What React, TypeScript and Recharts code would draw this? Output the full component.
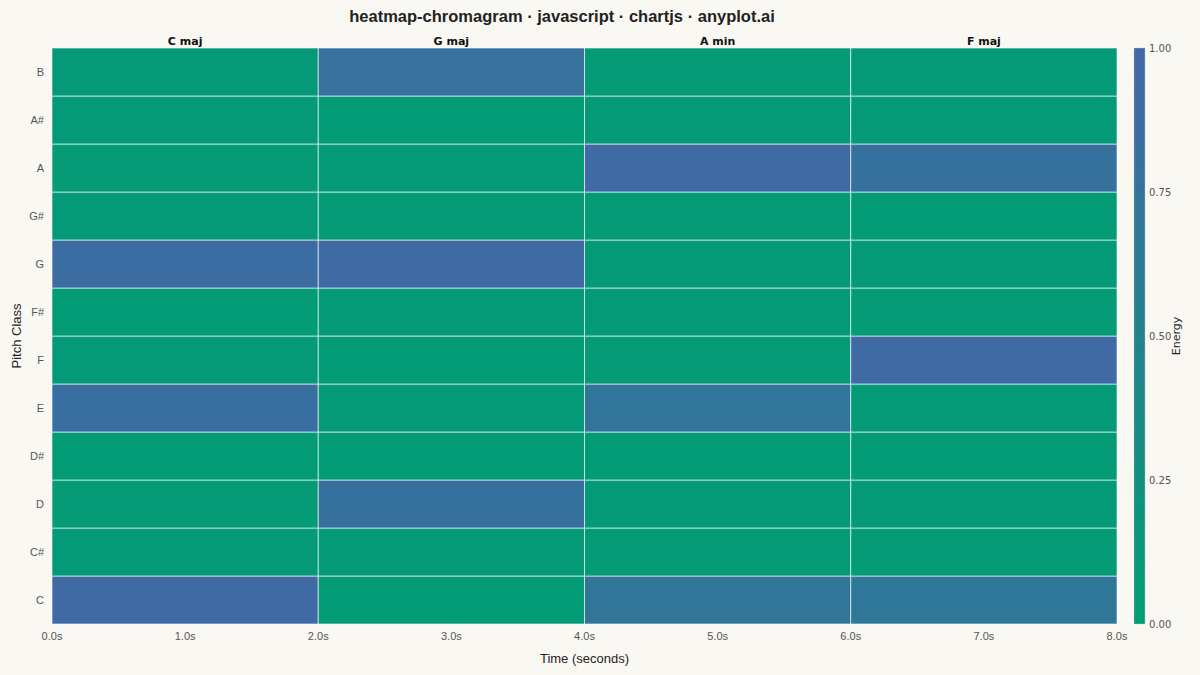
import React from "react";
import { ScatterChart, Scatter, XAxis, YAxis, ReferenceArea } from "recharts";

const PITCHES = ["C", "C#", "D", "D#", "E", "F", "F#", "G", "G#", "A", "A#", "B"];
const CHORDS = ["C maj", "G maj", "A min", "F maj"];
const CHORD_STARTS = [0, 2, 4, 6];
const CHORD_LENGTH = 2;
const TIME_TICKS = [0, 1, 2, 3, 4, 5, 6, 7, 8];
const ENERGY_TICKS = [0, 0.25, 0.5, 0.75, 1];

// energy per pitch class (C..B) for each chord segment
const C_MAJ = [0.93, 0.07, 0.06, 0.05, 0.84, 0.07, 0.05, 0.88, 0.08, 0.06, 0.07, 0.09];
const G_MAJ = [0.05, 0.07, 0.8, 0.05, 0.07, 0.05, 0.08, 0.93, 0.06, 0.07, 0.05, 0.82];
const A_MIN = [0.72, 0.06, 0.07, 0.05, 0.73, 0.06, 0.07, 0.08, 0.06, 0.93, 0.07, 0.06];
const F_MAJ = [0.69, 0.06, 0.08, 0.05, 0.07, 0.92, 0.06, 0.07, 0.05, 0.8, 0.08, 0.07];
const ENERGIES = [C_MAJ, G_MAJ, A_MIN, F_MAJ];

const BG = "#FAF8F2";
const LOW = [0, 158, 115];
const HIGH = [68, 102, 168];

function energyColor(v: number) {
  const c = LOW.map((l, i) => Math.round(l + (HIGH[i] - l) * v));
  return `rgb(${c[0]},${c[1]},${c[2]})`;
}

const cells = CHORDS.flatMap((_, ci) =>
  ENERGIES[ci].map((v, pi) => ({
    x1: CHORD_STARTS[ci],
    x2: CHORD_STARTS[ci] + CHORD_LENGTH,
    y1: pi,
    y2: pi + 1,
    x: CHORD_STARTS[ci] + CHORD_LENGTH / 2,
    y: pi + 0.5,
    v,
  }))
);

const chordCenters = CHORD_STARTS.map((s) => s + CHORD_LENGTH / 2);
const chordPoints = chordCenters.map((x) => ({ x, y: 6 }));
const pitchCenters = PITCHES.map((_, i) => i + 0.5);

const sans = "'Liberation Sans', Arial, sans-serif";
const dejavu = "'DejaVu Sans', sans-serif";

export default function App() {
  return (
    <div style={{ position: "absolute", left: 0, top: 0, width: 1200, height: 675, background: BG, fontFamily: sans }}>
      <svg width={0} height={0} style={{ position: "absolute" }}>
        <defs>
          <linearGradient id="cbGrad" x1="0" y1="1" x2="0" y2="0">
            <stop offset="0%" stopColor={energyColor(0)} />
            <stop offset="100%" stopColor={energyColor(1)} />
          </linearGradient>
        </defs>
      </svg>
      <div
        style={{
          position: "absolute",
          left: 0,
          top: 7,
          width: 1124,
          textAlign: "center",
          fontSize: 16.5,
          fontWeight: "bold",
          color: "#222",
        }}
      >
        heatmap-chromagram · javascript · chartjs · anyplot.ai
      </div>
      <div style={{ position: "absolute", left: 0, top: 0 }}>
        <ScatterChart width={1200} height={675} margin={{ top: 0, right: 83, bottom: 0, left: 0 }}>
          <XAxis
            type="number"
            dataKey="x"
            domain={[0, 8]}
            ticks={TIME_TICKS}
            tickFormatter={(t: number) => `${t.toFixed(1)}s`}
            axisLine={false}
            tickLine={false}
            height={51}
            tick={{ fontSize: 11, fill: "#555", fontFamily: sans }}
            label={{ value: "Time (seconds)", position: "insideBottom", offset: 12, fontSize: 13, fill: "#222", fontFamily: sans }}
          />
          <XAxis
            xAxisId="top"
            orientation="top"
            type="number"
            dataKey="x"
            domain={[0, 8]}
            ticks={chordCenters}
            tickFormatter={(t: number) => CHORDS[chordCenters.indexOf(t)] ?? ""}
            axisLine={false}
            tickLine={false}
            tickSize={0}
            tickMargin={3}
            height={48}
            tick={{ fontSize: 11, fill: "#111", fontWeight: "bold", fontFamily: dejavu }}
          />
          <YAxis
            type="number"
            dataKey="y"
            domain={[0, 12]}
            ticks={pitchCenters}
            tickFormatter={(t: number) => PITCHES[Math.floor(t)]}
            axisLine={false}
            tickLine={false}
            width={52}
            tick={{ fontSize: 11, fill: "#555", fontFamily: sans }}
            label={{ value: "Pitch Class", angle: -90, position: "insideLeft", offset: 16, fontSize: 13, fill: "#222", fontFamily: sans, style: { textAnchor: "middle" } }}
          />
          {cells.map((c, i) => (
            <ReferenceArea
              key={i}
              x1={c.x1}
              x2={c.x2}
              y1={c.y1}
              y2={c.y2}
              fill={energyColor(c.v)}
              fillOpacity={1}
              stroke="rgba(255,255,255,0.6)"
              strokeWidth={1}
            />
          ))}
          <Scatter data={cells} isAnimationActive={false} shape={() => <g />} />
          <Scatter data={chordPoints} xAxisId="top" isAnimationActive={false} shape={() => <g />} />
        </ScatterChart>
      </div>
      <div style={{ position: "absolute", left: 1120, top: 0 }}>
        <ScatterChart width={80} height={675} margin={{ top: 48, right: 0, bottom: 51, left: 14 }}>
          <XAxis type="number" dataKey="x" domain={[0, 1]} hide />
          <YAxis
            type="number"
            dataKey="y"
            orientation="right"
            domain={[0, 1]}
            ticks={ENERGY_TICKS}
            tickFormatter={(t: number) => t.toFixed(2)}
            axisLine={false}
            tickLine={false}
            tickSize={0}
            tickMargin={4}
            width={55}
            tick={{ fontSize: 10, fill: "#555", fontFamily: dejavu }}
            label={{ value: "Energy", angle: -90, position: "insideRight", offset: 24, fontSize: 11, fill: "#222", fontFamily: dejavu, style: { textAnchor: "middle" } }}
          />
          <ReferenceArea x1={0} x2={1} y1={0} y2={1} fill="url(#cbGrad)" fillOpacity={1} stroke="rgba(200,200,200,0.8)" strokeWidth={0.5} />
          <Scatter data={ENERGY_TICKS.map((t) => ({ x: 0.5, y: t }))} isAnimationActive={false} shape={() => <g />} />
        </ScatterChart>
      </div>
    </div>
  );
}
